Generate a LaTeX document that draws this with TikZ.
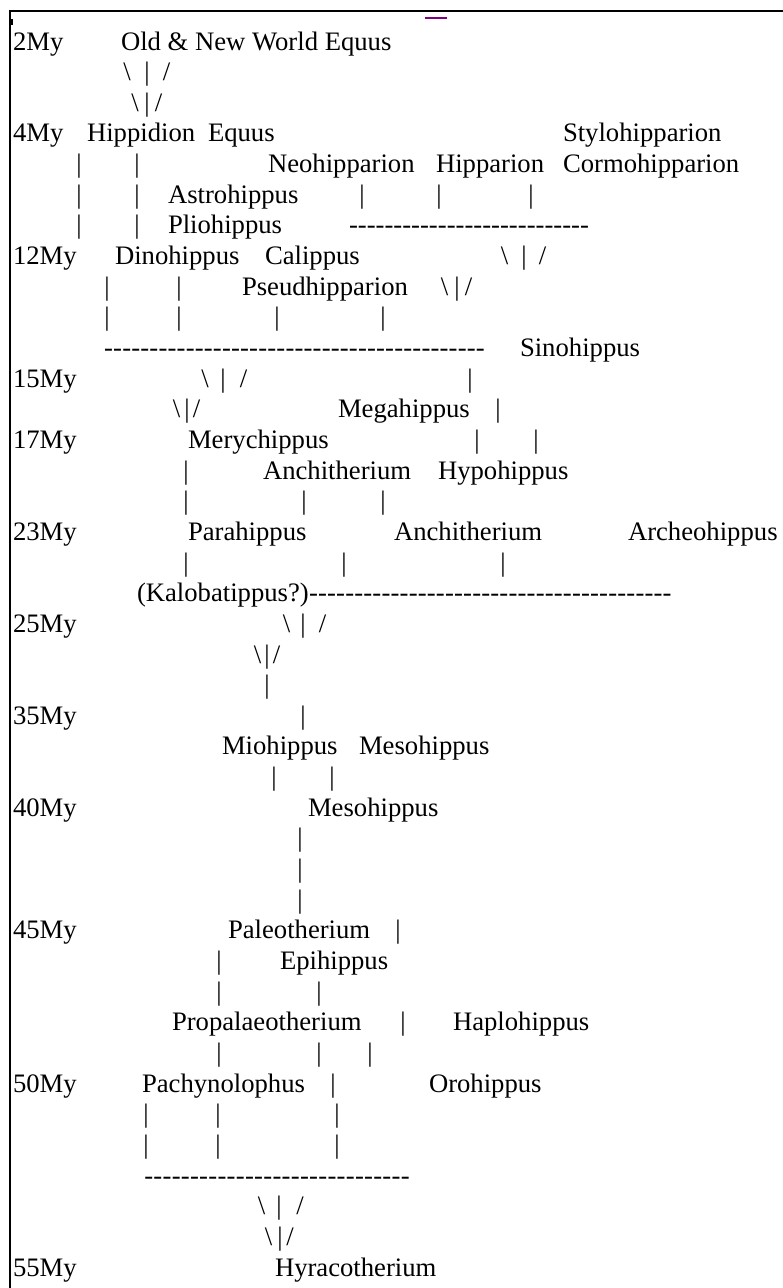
\documentclass[tikz,border=0pt]{standalone}
\usepackage{fontspec}
\setmainfont{Liberation Serif}
\definecolor{linkpurple}{RGB}{128,0,128}
\newcommand\fsz{\fontsize{26.67}{30.65}\selectfont}
\newcommand\bsl{\textbackslash}
\newcommand\dashrun[1]{\hbox to #1pt{\xleaders\hbox{-}\hfill}}
\tikzset{
  lbl/.style={anchor=base west, inner sep=0pt, outer sep=0pt, font=\fsz},
  ch/.style={anchor=base, inner sep=0pt, outer sep=0pt, font=\fsz},
  frame/.style={line width=2pt, black},
}
\begin{document}
\begin{tikzpicture}[x=1pt,y=-1pt]
\useasboundingbox (0,0) rectangle (783,1288);
% frame
\coordinate (tl) at (10,11);
\coordinate (tr) at (783,11);
\coordinate (bl) at (10,1288);
\draw[frame] (tr) -- (tl) -- (bl);
\fill[black] (9,19) rectangle (12.5,25);
\coordinate (pa) at (425,18);
\coordinate (pb) at (447,18);
\draw[linkpurple, line width=1.5pt] (pa) -- (pb);
% L1
\node[lbl] (t2My) at (13,50) {2My};
\node[lbl] (onw) at (121,50) {Old \& New World Equus};
% L2
\node[ch] (l2a) at (127,80.65) {\bsl};
\node[ch] (l2b) at (147,80.65) {|};
\node[ch] (l2c) at (166.5,80.65) {/};
% L3
\node[ch] (l3a) at (135,111.3) {\bsl};
\node[ch] (l3b) at (147,111.3) {|};
\node[ch] (l3c) at (158.5,111.3) {/};
% L4
\node[lbl] (t4My) at (13,141.95) {4My};
\node[lbl] (hippidion) at (87,141.95) {Hippidion};
\node[lbl] (equus) at (208,141.95) {Equus};
\node[lbl] (stylo) at (563,141.95) {Stylohipparion};
% L5
\node[ch] (l5a) at (79,172.6) {|};
\node[ch] (l5b) at (137,172.6) {|};
\node[lbl] (neohip) at (268,172.6) {Neohipparion};
\node[lbl] (hipparion) at (436,172.6) {Hipparion};
\node[lbl] (cormo) at (563,172.6) {Cormohipparion};
% L6
\node[ch] (l6a) at (79,203.25) {|};
\node[ch] (l6b) at (137,203.25) {|};
\node[lbl] (astro) at (168,203.25) {Astrohippus};
\node[ch] (l6c) at (362,203.25) {|};
\node[ch] (l6d) at (439,203.25) {|};
\node[ch] (l6e) at (531,203.25) {|};
% L7
\node[ch] (l7a) at (79,233.9) {|};
\node[ch] (l7b) at (137,233.9) {|};
\node[lbl] (plio) at (168,233.9) {Pliohippus};
\node[lbl] (d7) at (349,233.9) {\dashrun{240}};
% L8
\node[lbl] (t12My) at (13,264.55) {12My};
\node[lbl] (dino) at (115,264.55) {Dinohippus};
\node[lbl] (cali) at (265,264.55) {Calippus};
\node[ch] (l8a) at (504.5,264.55) {\bsl};
\node[ch] (l8b) at (524,264.55) {|};
\node[ch] (l8c) at (542.5,264.55) {/};
% L9
\node[ch] (l9a) at (107,295.2) {|};
\node[ch] (l9b) at (179,295.2) {|};
\node[lbl] (pseud) at (242,295.2) {Pseudhipparion};
\node[ch] (l9c) at (444.5,295.2) {\bsl};
\node[ch] (l9d) at (457,295.2) {|};
\node[ch] (l9e) at (468.5,295.2) {/};
% L10
\node[ch] (l10a) at (107,325.85) {|};
\node[ch] (l10b) at (179,325.85) {|};
\node[ch] (l10c) at (277,325.85) {|};
\node[ch] (l10d) at (383,325.85) {|};
% L11
\node[lbl] (d11) at (104,356.5) {\dashrun{381}};
\node[lbl] (sino) at (520,356.5) {Sinohippus};
% L12
\node[lbl] (t15My) at (13,387.15) {15My};
\node[ch] (l12a) at (205,387.15) {\bsl};
\node[ch] (l12b) at (223,387.15) {|};
\node[ch] (l12c) at (243.5,387.15) {/};
\node[ch] (l12d) at (470,387.15) {|};
% L13
\node[ch] (l13a) at (176.5,417.8) {\bsl};
\node[ch] (l13b) at (187,417.8) {|};
\node[ch] (l13c) at (196.5,417.8) {/};
\node[lbl] (mega) at (338,417.8) {Megahippus};
\node[ch] (l13d) at (498,417.8) {|};
% L14
\node[lbl] (t17My) at (13,448.45) {17My};
\node[lbl] (mery) at (188,448.45) {Merychippus};
\node[ch] (l14a) at (477,448.45) {|};
\node[ch] (l14b) at (536,448.45) {|};
% L15
\node[ch] (l15a) at (186,479.1) {|};
\node[lbl] (anchi1) at (263,479.1) {Anchitherium};
\node[lbl] (hypo) at (438,479.1) {Hypohippus};
% L16
\node[ch] (l16a) at (186,509.75) {|};
\node[ch] (l16b) at (304,509.75) {|};
\node[ch] (l16c) at (383,509.75) {|};
% L17
\node[lbl] (t23My) at (13,540.4) {23My};
\node[lbl] (para) at (188,540.4) {Parahippus};
\node[lbl] (anchi2) at (394,540.4) {Anchitherium};
\node[lbl] (arche) at (628,540.4) {Archeohippus};
% L18
\node[ch] (l18a) at (186,571.05) {|};
\node[ch] (l18b) at (344,571.05) {|};
\node[ch] (l18c) at (503,571.05) {|};
% L19
\node[lbl] (kalo) at (137,601.7) {(Kalobatippus?)};
\node[lbl, anchor=base west] (d19) at (kalo.base east) {\dashrun{363}};
% L20
\node[lbl] (t25My) at (13,632.35) {25My};
\node[ch] (l20a) at (286.5,632.35) {\bsl};
\node[ch] (l20b) at (303,632.35) {|};
\node[ch] (l20c) at (322.5,632.35) {/};
% L21
\node[ch] (l21a) at (257.5,663) {\bsl};
\node[ch] (l21b) at (267,663) {|};
\node[ch] (l21c) at (276.5,663) {/};
% L22
\node[ch] (l22a) at (267,693.65) {|};
% L23
\node[lbl] (t35My) at (13,724.3) {35My};
\node[ch] (l23a) at (303,724.3) {|};
% L24
\node[lbl] (mio) at (222,754.95) {Miohippus};
\node[lbl] (meso1) at (359,754.95) {Mesohippus};
% L25
\node[ch] (l25a) at (274,785.6) {|};
\node[ch] (l25b) at (332,785.6) {|};
% L26
\node[lbl] (t40My) at (13,816.25) {40My};
\node[lbl] (meso2) at (308,816.25) {Mesohippus};
% L27-29
\node[ch] (l27a) at (300,846.9) {|};
\node[ch] (l28a) at (300,877.55) {|};
\node[ch] (l29a) at (300,908.2) {|};
% L30
\node[lbl] (t45My) at (13,938.85) {45My};
\node[lbl] (paleo) at (228,938.85) {Paleotherium};
\node[ch] (l30a) at (398,938.85) {|};
% L31
\node[ch] (l31a) at (219,969.5) {|};
\node[lbl] (epi) at (280,969.5) {Epihippus};
% L32
\node[ch] (l32a) at (219,1000.15) {|};
\node[ch] (l32b) at (319,1000.15) {|};
% L33
\node[lbl] (propa) at (172,1030.8) {Propalaeotherium};
\node[ch] (l33a) at (403,1030.8) {|};
\node[lbl] (haplo) at (453,1030.8) {Haplohippus};
% L34
\node[ch] (l34a) at (219,1061.45) {|};
\node[ch] (l34b) at (319,1061.45) {|};
\node[ch] (l34c) at (370,1061.45) {|};
% L35
\node[lbl] (t50My) at (13,1092.1) {50My};
\node[lbl] (pachy) at (142,1092.1) {Pachynolophus};
\node[ch] (l35a) at (333,1092.1) {|};
\node[lbl] (oro) at (429,1092.1) {Orohippus};
% L36-37
\node[ch] (l36a) at (146,1122.75) {|};
\node[ch] (l36b) at (218,1122.75) {|};
\node[ch] (l36c) at (337,1122.75) {|};
\node[ch] (l37a) at (146,1153.4) {|};
\node[ch] (l37b) at (218,1153.4) {|};
\node[ch] (l37c) at (337,1153.4) {|};
% L38
\node[lbl] (d38) at (144,1184.05) {\dashrun{266}};
% L39
\node[ch] (l39a) at (261.5,1214.7) {\bsl};
\node[ch] (l39b) at (279,1214.7) {|};
\node[ch] (l39c) at (300,1214.7) {/};
% L40
\node[ch] (l40a) at (268.5,1245.35) {\bsl};
\node[ch] (l40b) at (280,1245.35) {|};
\node[ch] (l40c) at (290,1245.35) {/};
% L41
\node[lbl] (t55My) at (13,1276) {55My};
\node[lbl] (hyraco) at (275,1276) {Hyracotherium};
\end{tikzpicture}
\end{document}
